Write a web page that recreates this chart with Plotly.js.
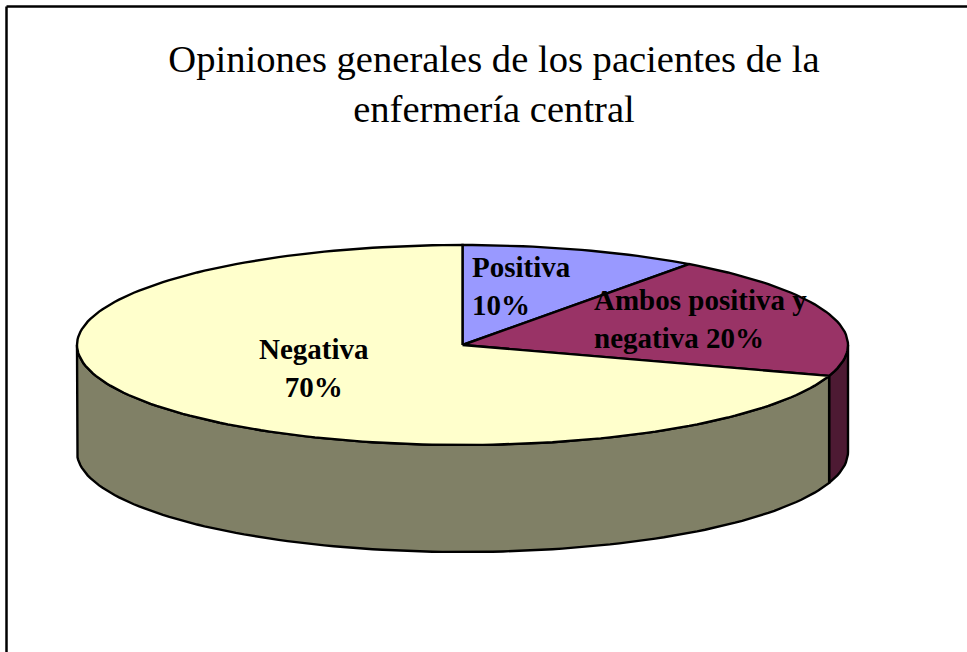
<!DOCTYPE html>
<html><head><meta charset="utf-8">
<script src="https://cdn.plot.ly/plotly-3.0.1.min.js"></script>
<style>html,body{margin:0;padding:0;background:#fff;overflow:hidden}#c{width:967px;height:652px}</style>
</head><body><div id="c"></div>
<script>
const categories = ['Positiva', 'Ambos positiva y negativa', 'Negativa'];
const values = [10, 20, 70];
const topColors = ['#9999FF', '#993366', '#FFFFCC'];
const wallColors = ['#4D4D80', '#4D1A33', '#808066'];
const labelLines = [['Positiva', '10%'], ['Ambos positiva y', 'negativa 20%'], ['Negativa', '70%']];
const labelPos = [[521, 286], [700, 319], [314, 368]];
const labelAlign = ['left', 'left', 'center'];

const W = 967, H = 652;
const cx = 462.5, cy = 345, rx = 385.5, ry = 100, depth = 107;
const total = values.reduce((a, b) => a + b, 0);

function pt(deg, dy) {
  const r = deg * Math.PI / 180;
  return [cx + rx * Math.sin(r), cy - ry * Math.cos(r) + (dy || 0)];
}
function arc(a, b, dy) {
  const out = [], n = Math.max(2, Math.ceil(Math.abs(b - a) / 1.5));
  for (let i = 0; i <= n; i++) out.push(pt(a + (b - a) * i / n, dy));
  return out;
}
function poly(points, fill, width) {
  return {
    type: 'scatter', mode: 'lines', x: points.map(p => p[0]), y: points.map(p => p[1]),
    fill: 'toself', fillcolor: fill, line: {color: '#000', width: width || 2.4},
    hoverinfo: 'skip', showlegend: false
  };
}

const traces = [];
const tops = [];
let start = 0;
values.forEach((v, i) => {
  const end = start + v / total * 360;
  const a = Math.max(start, 90), b = Math.min(end, 270);
  if (b > a) {
    traces.push(poly(arc(a, b, 0).concat(arc(b, a, depth)).concat([pt(a, 0)]), wallColors[i]));
  }
  tops.push(poly([[cx, cy]].concat(arc(start, end, 0)).concat([[cx, cy]]), topColors[i]));
  start = end;
});
traces.push(...tops);

const annotations = labelLines.map((lines, i) => ({
  x: labelPos[i][0], y: labelPos[i][1], xref: 'x', yref: 'y', showarrow: false,
  text: lines.map(s => '<b>' + s + '</b>').join('<br>'), align: labelAlign[i], xanchor: 'center', yanchor: 'middle',
  font: {family: '"Liberation Serif", serif', size: 29, color: '#000'}
}));

const hidden = {visible: false, fixedrange: true};
const frame = {color: '#000', width: 2.5};
Plotly.newPlot('c', traces, {
  width: W, height: H, margin: {l: 0, r: 0, t: 0, b: 0},
  paper_bgcolor: '#fff', plot_bgcolor: '#fff', showlegend: false,
  title: {
    text: 'Opiniones generales de los pacientes de la<br>enfermería central',
    x: 494 / W, xanchor: 'center', y: 1 - 72 / H, yanchor: 'middle',
    font: {family: '"Liberation Serif", serif', size: 38.6, color: '#000'}
  },
  xaxis: Object.assign({range: [0, W]}, hidden),
  yaxis: Object.assign({range: [H, 0]}, hidden),
  shapes: [
    {type: 'line', xref: 'x', yref: 'y', x0: 6.5, x1: W, y0: 6.5, y1: 6.5, line: frame},
    {type: 'line', xref: 'x', yref: 'y', x0: 6.5, x1: 6.5, y0: 6.5, y1: H, line: frame}
  ],
  annotations: annotations
}, {displayModeBar: false, staticPlot: true});
</script></body></html>
